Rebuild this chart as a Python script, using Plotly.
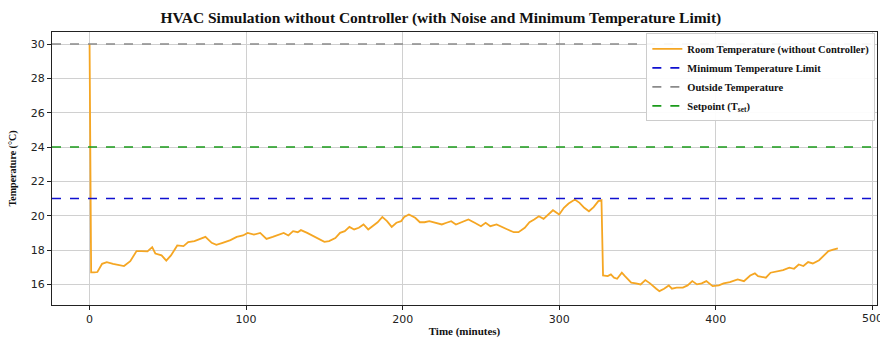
import plotly.graph_objects as go

time_min = [0, 1, 3, 5, 8, 11, 15, 19, 22, 26, 30, 33, 37, 40, 42, 46, 49, 52, 56, 60,
            63, 67, 72, 74, 78, 81, 85, 90, 94, 98, 101, 105, 109, 113, 117, 121, 124, 127, 130, 133,
            135, 139, 143, 147, 150, 153, 157, 160, 163, 166, 169, 172, 175, 178, 181, 184, 187, 190, 193, 196,
            199, 201, 204, 208, 211, 214, 217, 220, 225, 228, 231, 234, 238, 242, 246, 250, 253, 256, 260, 263,
            267, 271, 274, 278, 281, 284, 287, 290, 294, 296, 300, 303, 306, 310, 313, 316, 319, 322, 325, 327,
            328, 331, 333, 335, 337, 340, 342, 346, 349, 352, 355, 358, 362, 364, 367, 370, 372, 375, 379, 382,
            385, 388, 391, 394, 398, 402, 405, 409, 414, 418, 422, 425, 427, 432, 435, 439, 443, 447, 450, 453,
            456, 459, 462, 466, 469, 472, 475, 478]

room_temp = [30.0, 16.7, 16.7, 16.72, 17.2, 17.3, 17.2, 17.15, 17.07, 17.35, 17.94, 17.94, 17.92, 18.17, 17.8, 17.69, 17.38, 17.69, 18.27, 18.23,
             18.46, 18.52, 18.7, 18.77, 18.42, 18.3, 18.42, 18.58, 18.77, 18.85, 19.0, 18.9, 19.0, 18.65, 18.77, 18.9, 19.0, 18.85, 19.1, 19.04,
             19.16, 19.0, 18.8, 18.62, 18.48, 18.52, 18.7, 19.0, 19.1, 19.35, 19.2, 19.3, 19.49, 19.2, 19.39, 19.62, 19.93, 19.68, 19.35, 19.59,
             19.68, 19.93, 20.07, 19.88, 19.62, 19.62, 19.68, 19.62, 19.49, 19.59, 19.68, 19.49, 19.62, 19.78, 19.59, 19.39, 19.59, 19.39, 19.49, 19.35,
             19.2, 19.04, 19.04, 19.3, 19.62, 19.78, 19.97, 19.82, 20.17, 20.32, 20.07, 20.46, 20.71, 20.94, 20.75, 20.46, 20.26, 20.5, 20.85, 20.9,
             16.52, 16.48, 16.58, 16.39, 16.33, 16.68, 16.48, 16.1, 16.06, 16.0, 16.25, 16.06, 15.75, 15.61, 15.75, 15.94, 15.75, 15.81, 15.81, 15.94,
             16.19, 16.0, 16.06, 16.19, 15.9, 15.94, 16.06, 16.13, 16.29, 16.19, 16.52, 16.64, 16.48, 16.39, 16.68, 16.77, 16.83, 16.97, 16.91, 17.16,
             17.07, 17.3, 17.22, 17.41, 17.69, 17.94, 18.03, 18.1]

min_temp_limit = 21
outside_temp = 30
setpoint = 24

x_ticks = [0, 100, 200, 300, 400, 500]
y_ticks = [16, 18, 20, 22, 24, 26, 28, 30]

assert len(time_min) == len(room_temp)

x_range = [-24, 503]
y_range = [14.8, 30.7]

serif = "Liberation Serif, DejaVu Serif, serif"
tick_font = dict(family="DejaVu Sans", size=11, color="#222")

fig = go.Figure()
fig.add_trace(go.Scatter(x=time_min, y=room_temp, mode="lines",
                         line=dict(color="#f5a623", width=1.8),
                         name="<b>Room Temperature (without Controller)</b>"))
fig.add_trace(go.Scatter(x=x_range, y=[min_temp_limit] * 2, mode="lines",
                         line=dict(color="#1010d0", width=1.6, dash="dash"),
                         name="<b>Minimum Temperature Limit</b>"))
fig.add_trace(go.Scatter(x=x_range, y=[outside_temp] * 2, mode="lines",
                         line=dict(color="#8a8a8a", width=1.6, dash="dash"),
                         name="<b>Outside Temperature</b>"))
fig.add_trace(go.Scatter(x=x_range, y=[setpoint] * 2, mode="lines",
                         line=dict(color="#1a9a1a", width=1.6, dash="dash"),
                         name="<b>Setpoint (T<sub>set</sub>)</b>"))

# last tick label sits at the clipped right edge, as in the reference
fig.add_annotation(x=x_ticks[-1], xref="x", y=0, yref="paper", yanchor="top",
                   text=str(x_ticks[-1]), showarrow=False, yshift=-5,
                   font=tick_font)

fig.update_layout(
    width=880, height=340,
    margin=dict(l=52, r=3, t=32, b=35, autoexpand=False),
    paper_bgcolor="white", plot_bgcolor="white",
    title=dict(text="<b>HVAC Simulation without Controller (with Noise and Minimum Temperature Limit)</b>",
               x=0.501, xref="container", xanchor="center", y=0.948, yref="container", yanchor="middle",
               font=dict(family=serif, size=15.5, color="#111"), automargin=False),
    legend=dict(x=0.998, y=0.995, xanchor="right", yanchor="top",
                bgcolor="rgba(255,255,255,0.92)", bordercolor="#cccccc", borderwidth=1,
                font=dict(family=serif, size=10.5, color="#111"),
                tracegroupgap=0, itemwidth=30),
    showlegend=True,
)
fig.update_xaxes(range=x_range, tickvals=x_ticks[:-1], automargin=False,
                 showgrid=True, gridcolor="#d0d0d0", gridwidth=1,
                 showline=True, linecolor="#222", linewidth=1, mirror=True,
                 ticks="outside", ticklen=4, tickcolor="#222",
                 tickfont=tick_font,
                 zeroline=False,
                 title=dict(text="<b>Time (minutes)</b>", standoff=2,
                            font=dict(family=serif, size=11, color="#111")))
fig.update_yaxes(range=y_range, tickvals=y_ticks, automargin=False,
                 showgrid=True, gridcolor="#d0d0d0", gridwidth=1,
                 showline=True, linecolor="#222", linewidth=1, mirror=True,
                 ticks="outside", ticklen=4, tickcolor="#222",
                 tickfont=tick_font,
                 zeroline=False,
                 title=dict(text="<b>Temperature (°C)</b>", standoff=12,
                            font=dict(family=serif, size=10, color="#111")))

# grid line and tick for 500 drawn via the axis as a minor-free shape-less approach
fig.update_xaxes(tickvals=x_ticks)

fig.write_html("out.html", config={"displayModeBar": False},
               post_script="document.body.style.margin='0';")
